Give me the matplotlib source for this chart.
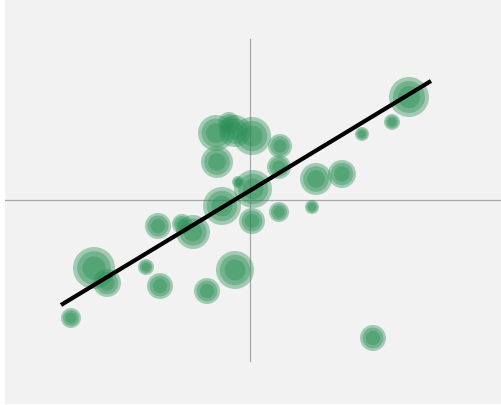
import matplotlib.pyplot as plt
from matplotlib.patches import Circle

# Bubble centres and radii (data units)
bx = [15.9, 14.2, 11.2, 9.2, 6.6, 6.2, 3.0, 2.9, 2.9,
      -3.4, -1.5, 0.2, -2.1, -3.3, 0.3, -1.2, -2.8, 0.2,
      -9.2, -5.7, -6.8, -10.4, -9.0, -4.3, -1.5,
      -15.6, -14.3, -17.9, 12.3]
by = [10.3, 7.8, 6.6, 2.6, 2.1, -0.7, 5.4, 3.3, -1.2,
      6.7, 6.9, 6.4, 7.7, 3.8, 1.1, 1.8, -0.6, -2.1,
      -2.6, -3.2, -2.4, -6.7, -8.6, -9.1, -7.0,
      -6.8, -8.3, -11.8, -13.8]
br = [2.0, 0.8, 0.7, 1.4, 1.6, 0.7, 1.2, 1.2, 1.0,
      1.8, 1.6, 1.9, 1.1, 1.6, 1.9, 0.6, 1.9, 1.3,
      1.3, 1.7, 1.0, 0.8, 1.3, 1.3, 1.9,
      2.1, 1.4, 1.0, 1.3]

# Fitted trend line end points
fit_x = [-18.9, 18.1]
fit_y = [-10.5, 11.9]

fig = plt.figure(figsize=(5.01, 4.06), dpi=100, facecolor='white')
ax = fig.add_axes([5 / 501, 1 / 406, 496 / 501, 405 / 406])
ax.set_facecolor('#f2f2f2')
ax.set_xlim(-24.5, 25.1)
ax.set_ylim(-20.4, 20.1)
for s in ax.spines.values():
    s.set_visible(False)
ax.set_xticks([])
ax.set_yticks([])

# zero lines
ax.axhline(0, color='#a8a8a8', lw=0.9, zorder=1)
ax.plot([0, 0], [-16.1, 16.1], color='#a8a8a8', lw=0.9, zorder=1)

# each bubble is a few stacked translucent discs
green = '#2a8f55'
for x, y, r in zip(bx, by, br):
    for f in (1.0, 0.8, 0.55):
        ax.add_patch(Circle((x, y), r * f, facecolor=green, edgecolor='none',
                            alpha=0.4, zorder=2))

ax.plot(fit_x, fit_y, color='black', lw=3, solid_capstyle='butt', zorder=3)

fig.savefig('out.png', dpi=100, facecolor='white')
